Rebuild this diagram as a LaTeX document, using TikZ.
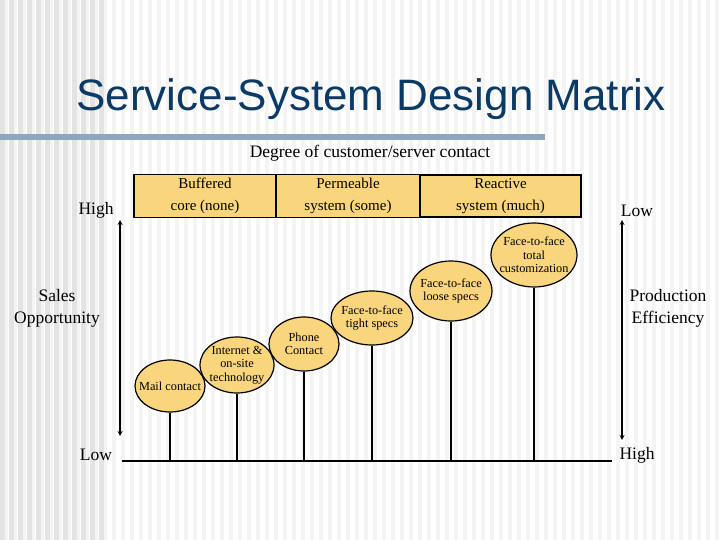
\documentclass[tikz,border=0pt]{standalone}
\usepackage{fontspec}
\setmainfont{Liberation Serif}
\newfontfamily\titlefont{Liberation Sans}
\usetikzlibrary{shapes.geometric}
\definecolor{fillY}{HTML}{F9D67E}
\definecolor{titleC}{HTML}{0B3A66}
\definecolor{barC}{HTML}{8FA6BE}
\begin{document}
\begin{tikzpicture}[x=1pt,y=-1pt,
  ov/.style={ellipse,draw,line width=1.2pt,fill=fillY,inner xsep=-9pt,inner ysep=-4pt,font=\fontsize{12.3}{13.5}\selectfont,align=center},
  stem/.style={line width=1.2pt},
  lab/.style={font=\fontsize{17.5}{22}\selectfont,align=center},
  hd/.style={draw,line width=1.2pt,fill=fillY,minimum width=142pt,minimum height=42pt,font=\fontsize{15}{22}\selectfont,align=center}]
\useasboundingbox (0,0) rectangle (720,540);
\fill[white] (0,0) rectangle (720,540);
\foreach \i in {0,...,79}{\fill[gray!9] (\i*9+4,0) rectangle (\i*9+8,540);}
\foreach \i in {0,...,11}{\fill[gray!22] (\i*9,0) rectangle (\i*9+5,540);}
\fill[barC] (0,134) rectangle (545,140);
\node[font=\titlefont\fontsize{44}{48}\selectfont,text=titleC] (title) at (371,99) {Service-System Design Matrix};
\node[lab] (deg) at (370,153) {Degree of customer/server contact};
\node[hd,minimum width=142pt] (h1) at (205,196) {Buffered\\core (none)};
\node[hd,minimum width=144pt] (h2) at (348,196) {Permeable\\system (some)};
\node[hd,minimum width=161pt] (h3) at (500.5,196) {Reactive\\system (much)};
\node[lab] (high1) at (96,210) {High};
\node[lab] (low1) at (637,211) {Low};
\node[lab] (so) at (57,308) {Sales\\Opportunity};
\node[lab] (pe) at (668,308) {Production\\Efficiency};
\node[lab] (low2) at (96,455) {Low};
\node[lab] (high2) at (637,455) {High};
\coordinate (la) at (120,220); \coordinate (lb) at (120,436);
\coordinate (ra) at (622,220); \coordinate (rb) at (622,440);
\draw[line width=1.2pt,<->,>=stealth] (la) -- (lb);
\draw[line width=1.2pt,<->,>=stealth] (ra) -- (rb);
\coordinate (b0) at (122,461); \coordinate (b1) at (612,461);
\draw[line width=1.5pt] (b0) -- (b1);
\node[ov,minimum width=70pt,minimum height=52pt] (e1) at (170,386) {Mail contact};
\node[ov,minimum width=74pt,minimum height=56pt] (e2) at (237,365) {Internet \&\\on-site\\technology};
\node[ov,minimum width=70pt,minimum height=54pt] (e3) at (304,344) {Phone\\Contact};
\node[ov,minimum width=82pt,minimum height=54pt] (e4) at (372,318) {Face-to-face\\tight specs};
\node[ov,minimum width=82pt,minimum height=60pt] (e5) at (451,291) {Face-to-face\\loose specs};
\node[ov,minimum width=86pt,minimum height=64pt] (e6) at (534,255) {Face-to-face\\total\\customization};
\foreach \e in {e1,e2,e3,e4,e5,e6}{\draw[stem] (\e.south) -- (\e.south |- b0);}
\end{tikzpicture}
\end{document}
